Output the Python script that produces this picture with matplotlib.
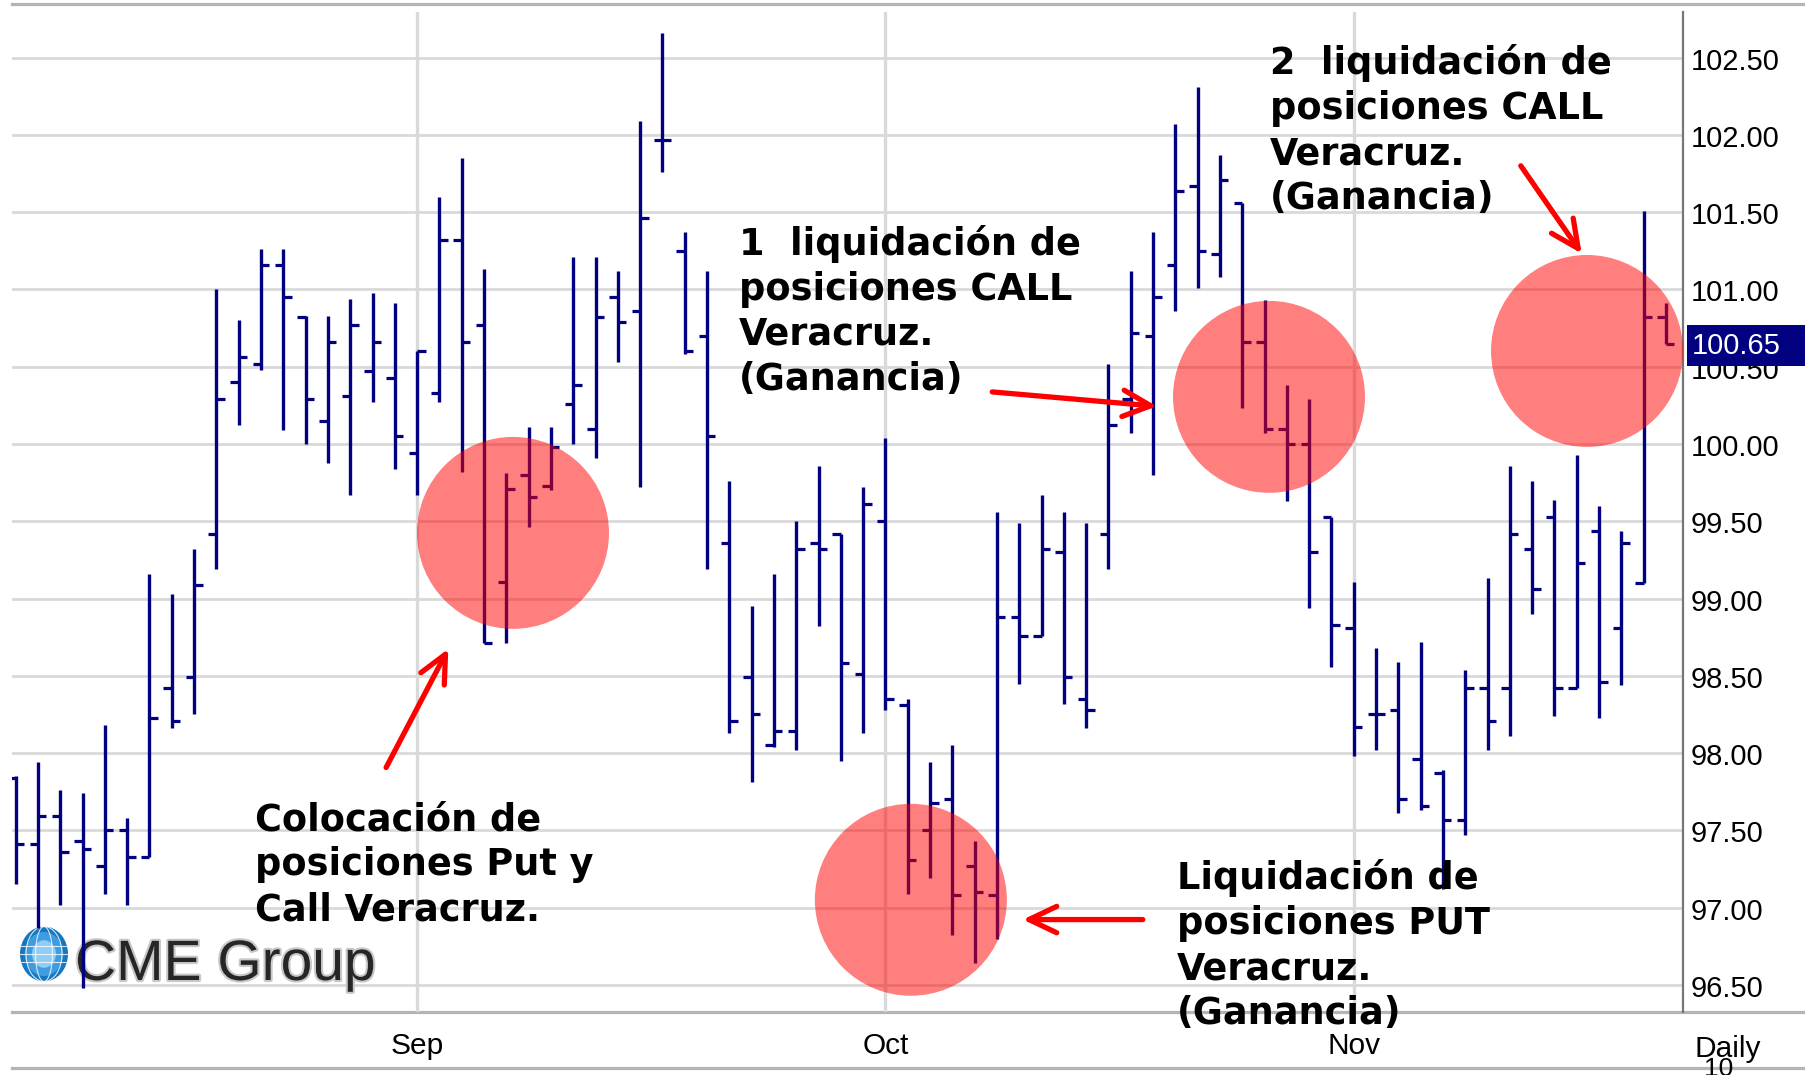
import numpy as np
import matplotlib
matplotlib.use("Agg")
import matplotlib.pyplot as plt
import matplotlib.transforms as mtransforms
from matplotlib.patches import Ellipse, Rectangle
from matplotlib.lines import Line2D
from matplotlib import font_manager as fm
import matplotlib.patheffects as pe

# ---------------- data (daily OHLC bars) ----------------
opens = [97.84, 97.41, 97.59, 97.43, 97.27, 97.50, 97.33, 98.42, 98.49, 99.42,
         100.40, 100.52, 101.16, 100.82, 100.15, 100.31, 100.47, 100.43, 99.94, 100.33,
         101.32, 100.77, 99.11, 99.80, 99.73, 100.26, 100.10, 100.95, 100.86, 101.97,
         101.25, 100.70, 99.36, 98.49, 98.05, 98.14, 99.36, 99.42, 98.51, 99.50,
         98.31, 97.50, 97.70, 97.27, 97.08, 98.88, 98.76, 99.30, 98.35, 99.42,
         100.29, 100.70, 101.16, 101.67, 101.23, 101.56, 100.66, 100.10, 100.00, 99.53,
         98.81, 98.25, 98.28, 97.96, 97.87, 97.57, 98.42, 98.42, 99.32, 99.53,
         98.42, 99.44, 98.81, 99.10, 100.82]
highs = [97.85, 97.94, 97.76, 97.74, 98.18, 97.58, 99.16, 99.03, 99.32, 101.00,
         100.80, 101.26, 101.26, 100.83, 100.83, 100.94, 100.98, 100.91, 100.60, 101.60,
         101.85, 101.13, 99.81, 100.11, 100.11, 101.21, 101.21, 101.12, 102.09, 102.66,
         101.37, 101.12, 99.76, 98.95, 99.16, 99.50, 99.86, 99.42, 99.72, 100.04,
         98.35, 97.94, 98.05, 97.43, 99.56, 99.49, 99.67, 99.56, 99.49, 100.52,
         101.12, 101.37, 102.07, 102.31, 101.87, 101.56, 100.93, 100.38, 100.29, 99.53,
         99.11, 98.68, 98.59, 98.72, 97.89, 98.54, 99.13, 99.86, 99.76, 99.64,
         99.93, 99.60, 99.44, 101.51, 100.91]
lows = [97.15, 96.87, 97.02, 96.48, 97.09, 97.02, 97.33, 98.16, 98.25, 99.19,
        100.12, 100.48, 100.09, 100.00, 99.88, 99.67, 100.27, 99.84, 99.67, 100.27,
        99.82, 98.71, 98.71, 99.46, 99.70, 100.00, 99.91, 100.53, 99.72, 101.76,
        100.58, 99.19, 98.13, 97.81, 98.04, 98.02, 98.82, 97.95, 98.13, 98.28,
        97.09, 97.19, 96.82, 96.64, 96.80, 98.45, 98.76, 98.32, 98.16, 99.19,
        100.07, 99.80, 100.86, 101.01, 101.08, 100.23, 100.07, 99.63, 98.94, 98.56,
        97.98, 98.02, 97.61, 97.63, 97.12, 97.47, 98.02, 98.11, 98.90, 98.24,
        98.42, 98.23, 98.44, 99.10, 100.65]
closes = [97.41, 97.59, 97.36, 97.38, 97.50, 97.33, 98.23, 98.21, 99.09, 100.29,
          100.56, 101.16, 100.95, 100.29, 100.66, 100.77, 100.66, 100.05, 100.60, 101.32,
          100.66, 98.71, 99.71, 99.66, 99.98, 100.38, 100.82, 100.79, 101.46, 101.97,
          100.60, 100.05, 98.21, 98.25, 98.14, 99.32, 99.32, 98.58, 99.61, 98.35,
          97.31, 97.68, 97.08, 97.10, 98.88, 98.76, 99.32, 98.49, 98.28, 100.12,
          100.72, 100.95, 101.64, 101.25, 101.71, 100.66, 100.10, 100.00, 99.30, 98.83,
          98.17, 98.25, 97.70, 97.66, 97.57, 98.42, 98.21, 99.42, 99.06, 98.42,
          99.23, 98.46, 99.36, 100.82, 100.65]

month_labels = ["Sep", "Oct", "Nov"]
month_start_index = [18, 39, 60]
y_ticks = [96.5, 97.0, 97.5, 98.0, 98.5, 99.0, 99.5, 100.0, 100.5, 101.0, 101.5, 102.0, 102.5]
y_tick_labels = ["96.50", "97.00", "97.50", "98.00", "98.50", "99.00", "99.50",
                 "100.00", "100.50", "101.00", "101.50", "102.00", "102.50"]
last_price_label = "100.65"

# annotations (bar index, price)
circle_centers = [(22.30, 99.425), (40.14, 97.051), (56.20, 100.305), (70.46, 100.602)]
arrows = [  # (tail, tip)
    ((16.61, 97.907), (19.40, 98.675)),
    ((43.79, 100.337), (51.17, 100.244)),
    ((50.54, 96.923), (45.16, 96.923)),
    ((67.49, 101.80), (70.22, 101.232)),
]
notes = [
    ((10.72, 97.688), "Colocación de\nposiciones Put y\nCall Veracruz."),
    ((32.42, 101.420), "1  liquidación de\nposiciones CALL\nVeracruz.\n(Ganancia)"),
    ((56.23, 102.588), "2  liquidación de\nposiciones CALL\nVeracruz.\n(Ganancia)"),
    ((52.06, 97.316), "Liquidación de\nposiciones PUT\nVeracruz.\n(Ganancia)"),
]

# ---------------- figure ----------------
W, H = 1806, 1075
fig = plt.figure(figsize=(W / 100, H / 100), dpi=100)
fig.patch.set_facecolor("white")

ax_l, ax_r, ax_t, ax_b = 12.3, 1682.7, 11.7, 1012.0
ax = fig.add_axes([ax_l / W, 1 - ax_b / H, (ax_r - ax_l) / W, (ax_b - ax_t) / H])
ax.patch.set_alpha(0.0)

navy = "#000080"
x = np.arange(len(opens))
tick = 0.38
ax.vlines(x, lows, highs, color=navy, linewidth=2.4, zorder=3)
ax.hlines(opens, x - tick, x, color=navy, linewidth=2.3, zorder=3)
ax.hlines(closes, x, x + tick, color=navy, linewidth=2.3, zorder=3)

ax.set_xlim(-0.152, 74.75)
ax.set_ylim(96.325, 102.797)

# grid
ax.set_yticks(y_ticks)
ax.set_yticklabels(y_tick_labels)
ax.set_xticks(month_start_index)
ax.set_xticklabels(month_labels)
ax.set_axisbelow(True)
ax.grid(axis="y", color="#d9d9d9", linewidth=2.0)
ax.grid(axis="x", color="#d9d9d9", linewidth=2.4)

axis_font = "Liberation Sans"
ax.yaxis.tick_right()
ax.tick_params(axis="y", length=0, pad=6, labelsize=21, labelcolor="black")
ax.tick_params(axis="x", length=0, pad=14.5, labelsize=21.5, labelcolor="black")
for lab in ax.get_yticklabels() + ax.get_xticklabels():
    lab.set_fontfamily(axis_font)
off = mtransforms.ScaledTranslation(0, -0.01, fig.dpi_scale_trans)
for lab in ax.get_yticklabels():
    lab.set_transform(lab.get_transform() + off)

for s in ["left", "top", "bottom"]:
    ax.spines[s].set_visible(False)
ax.spines["right"].set_color("#777777")
ax.spines["right"].set_linewidth(1.6)

# frame lines across the figure
for ypx in (4.0, 1012.0, 1068.0):
    fig.add_artist(Line2D([ax_l / W, 1.0], [1 - ypx / H, 1 - ypx / H],
                          transform=fig.transFigure, color="#b4b4b4",
                          linewidth=2.3, zorder=-1))

# highlight circles
rx = 96 / 22.3
ry = 96 / 154.6
for cx, cy in circle_centers:
    ax.add_patch(Ellipse((cx, cy), 2 * rx, 2 * ry, facecolor="#ff0000",
                         edgecolor="none", alpha=0.5, zorder=4, clip_on=False))

# arrows
for tail, tip in arrows:
    ax.annotate("", xy=tip, xytext=tail,
                arrowprops=dict(arrowstyle="->,head_length=2.0,head_width=0.95",
                                color="#ff0000", lw=3.8, shrinkA=0, shrinkB=0),
                annotation_clip=False, zorder=5)

# notes
for (tx, ty), s in notes:
    ax.text(tx, ty, s, fontsize=26.4, fontweight="bold", family="DejaVu Sans",
            ha="left", va="top", linespacing=1.28, color="black", zorder=6,
            clip_on=False)

# CME Group logo (bottom-left)
def has_font(name):
    try:
        fm.findfont(fm.FontProperties(family=name), fallback_to_default=False)
        return True
    except Exception:
        return False

aw = ax_r - ax_l
ah = ax_b - ax_t
gcx, gcy = (44 - ax_l) / aw, (ax_b - 954) / ah
for scale, col in [(1.0, "#1577c2"), (0.8, "#3d9de0"), (0.5, "#8fcdf4")]:
    ax.add_patch(Ellipse((gcx, gcy), scale * 48 / aw, scale * 55 / ah,
                         transform=ax.transAxes, facecolor=col, edgecolor="none", zorder=1))
for k in (-0.3, 0.0, 0.3):
    ax.add_line(Line2D([gcx - 24 / aw * np.sqrt(1 - k * k), gcx + 24 / aw * np.sqrt(1 - k * k)],
                       [gcy + k * 27.5 / ah, gcy + k * 27.5 / ah], transform=ax.transAxes,
                       color="white", linewidth=0.8, alpha=0.8, zorder=1))
for k in (0.35, 0.75):
    ax.add_patch(Ellipse((gcx, gcy), k * 48 / aw, 55 / ah, transform=ax.transAxes,
                         facecolor="none", edgecolor="white", linewidth=0.8, alpha=0.8, zorder=1))

if has_font("Liberation Sans Narrow"):
    logo_family, logo_size = "Liberation Sans Narrow", 50
else:
    logo_family, logo_size = "Liberation Sans", 41
ax.text((75 - ax_l) / aw, (ax_b - 980) / ah, "CME Group", transform=ax.transAxes,
        family=logo_family, fontsize=logo_size, color="#262626", ha="left", va="baseline",
        zorder=1, path_effects=[pe.withStroke(linewidth=3, foreground="#c8c8c8")])

# last price marker on the right axis
blend = mtransforms.blended_transform_factory(fig.transFigure, ax.transData)
last = closes[-1]
box_h = 41 / 154.6
fig.add_artist(Rectangle((1686.7 / W, last - 0.015 - box_h / 2), 1 - 1686.7 / W, box_h,
                         transform=blend, facecolor=navy, edgecolor="none", zorder=3))
fig.add_artist(plt.Text(1692 / W, last - 0.015, last_price_label, transform=blend,
                        color="white", fontsize=21, family=axis_font, ha="left",
                        va="center", zorder=4))

# bottom-right labels
fig.text(1695 / W, 1 - 1057 / H, "Daily", fontsize=21.5, family=axis_font, ha="left",
         va="baseline", color="black", zorder=3)
fig.text(1704 / W, 1 - 1057 / H, "10", fontsize=19, family=axis_font, ha="left",
         va="top", color="black", zorder=3)

fig.savefig("out.png", dpi=100, facecolor="white")
